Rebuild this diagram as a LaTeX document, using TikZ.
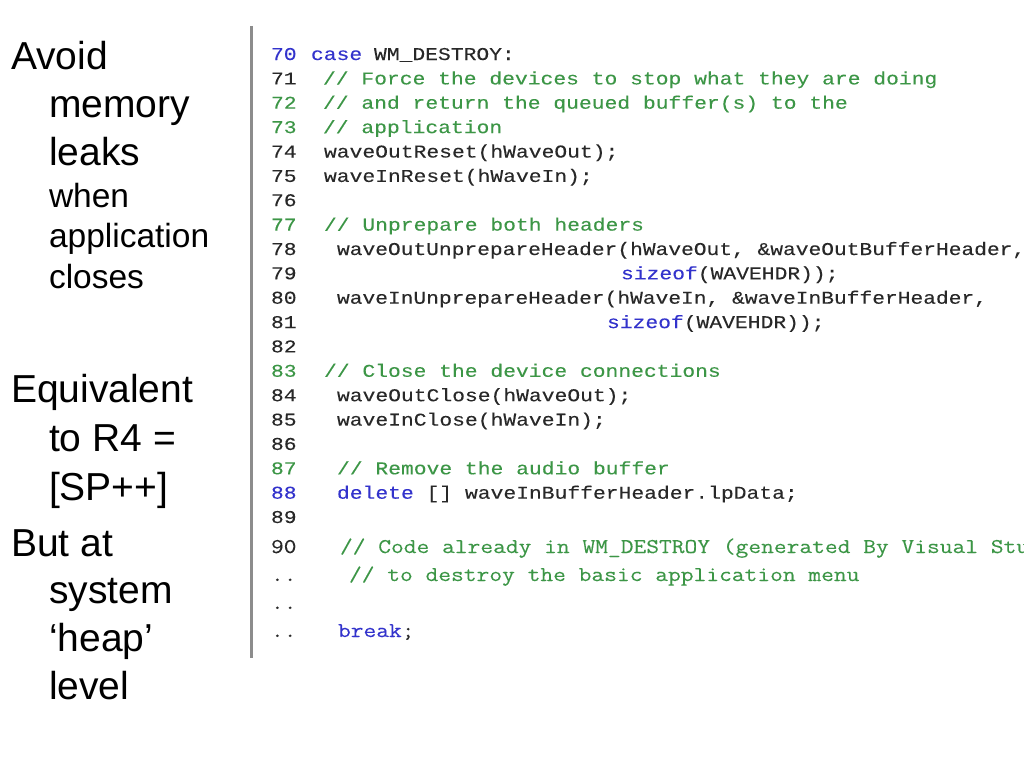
\documentclass[tikz,border=0pt]{standalone}
\usepackage{fontspec}
\setmainfont{Liberation Sans}
\newfontfamily\codefont[FakeStretch=1.185,FakeBold=0.12]{Liberation Mono}
\newfontfamily\codefontn[FakeStretch=1.18,FakeBold=0.12]{Liberation Mono}
\newfontfamily\lowfont[FakeStretch=1.18,FakeBold=0.12]{Latin Modern Mono}
\definecolor{kw}{RGB}{51,51,204}
\definecolor{cm}{RGB}{60,150,70}
\definecolor{tx}{RGB}{40,40,40}
\definecolor{rule}{RGB}{140,140,140}
\tikzset{
 big/.style={anchor=base west, inner sep=0pt, outer sep=0pt, font=\fontsize{39}{39}\selectfont},
 small/.style={anchor=base west, inner sep=0pt, outer sep=0pt, font=\fontsize{33.5}{33.5}\selectfont},
 code/.style={anchor=base west, inner sep=0pt, outer sep=0pt, font=\codefont\fontsize{18}{18}\selectfont, text=tx},
 coden/.style={anchor=base west, inner sep=0pt, outer sep=0pt, font=\codefontn\fontsize{18}{18}\selectfont, text=tx},
 low/.style={anchor=base west, inner sep=0pt, outer sep=0pt, font=\lowfont\fontsize{21}{21}\selectfont, text=tx},
 cmt/.style={text=cm},
 key/.style={text=kw},
}
\begin{document}
\begin{tikzpicture}[x=1pt,y=-1pt]
\useasboundingbox (0,0) rectangle (1024,768);
\clip (0,0) rectangle (1024,768);
\fill[white] (0,0) rectangle (1024,768);
% left column
\node[big] (t1) at (11,69) {Avoid};
\node[big] (t2) at (49,117) {memory};
\node[big] (t3) at (49,165) {leaks};
\node[small] (t4) at (49,207) {when};
\node[small] (t5) at (49,247) {application};
\node[small] (t6) at (49,288) {closes};
\node[big] (t7) at (11,402) {Equivalent};
\node[big] (t8) at (49,451) {to R4 =};
\node[big] (t9) at (49,500) {[SP++]};
\node[big] (t10) at (11,556) {But at};
\node[big] (t11) at (49,603) {system};
\node[big] (t12) at (49,651) {‘heap’};
\node[big] (t13) at (49,699) {level};
% separator
\coordinate (rtop) at (251,26);
\coordinate (rbot) at (251,658);
\draw[rule, line width=3pt] (rtop) -- (rbot);
% code
\node[code,key] (n70) at (271,60) {70};
\node[code,key] (c70a) at (311,60) {case};
\node[code] (c70b) at (374,60) {WM\_DESTROY:};
\node[code] (n71) at (271,84.4) {71};
\node[code,cmt] (c71) at (323,84.4) {// Force the devices to stop what they are doing};
\node[code,cmt] (n72) at (271,108.7) {72};
\node[code,cmt] (c72) at (323,108.7) {// and return the queued buffer(s) to the};
\node[code,cmt] (n73) at (271,133.1) {73};
\node[code,cmt] (c73) at (323,133.1) {// application};
\node[code] (n74) at (271,157.5) {74};
\node[code] (c74) at (324,157.5) {waveOutReset(hWaveOut);};
\node[code] (n75) at (271,181.9) {75};
\node[code] (c75) at (324,181.9) {waveInReset(hWaveIn);};
\node[code] (n76) at (271,206.2) {76};
\node[code,cmt] (n77) at (271,230.6) {77};
\node[code,cmt] (c77) at (324,230.6) {// Unprepare both headers};
\node[code] (n78) at (271,255.0) {78};
\node[coden] (c78) at (337,255.0) {waveOutUnprepareHeader(hWaveOut, \&waveOutBufferHeader,};
\node[code] (n79) at (271,279.3) {79};
\node[code,key] (c79a) at (621,279.3) {sizeof};
\node[code] (c79b) at (c79a.base east) [anchor=base west] {(WAVEHDR));};
\node[code] (n80) at (271,303.7) {80};
\node[coden] (c80) at (337,303.7) {waveInUnprepareHeader(hWaveIn, \&waveInBufferHeader,};
\node[code] (n81) at (271,328.1) {81};
\node[code,key] (c81a) at (607,328.1) {sizeof};
\node[code] (c81b) at (c81a.base east) [anchor=base west] {(WAVEHDR));};
\node[code] (n82) at (271,352.4) {82};
\node[code,cmt] (n83) at (271,376.8) {83};
\node[code,cmt] (c83) at (324,376.8) {// Close the device connections};
\node[code] (n84) at (271,401.2) {84};
\node[code] (c84) at (337,401.2) {waveOutClose(hWaveOut);};
\node[code] (n85) at (271,425.6) {85};
\node[code] (c85) at (337,425.6) {waveInClose(hWaveIn);};
\node[code] (n86) at (271,449.9) {86};
\node[code,cmt] (n87) at (271,474.3) {87};
\node[code,cmt] (c87) at (337,474.3) {// Remove the audio buffer};
\node[code,key] (n88) at (271,498.7) {88};
\node[code] (c88) at (337,498.7) {\textcolor{kw}{delete} [] waveInBufferHeader.lpData;};
\node[code] (n89) at (271,523.0) {89};
% lower part
\node[low] (n90) at (271,553) {90};
\node[low,cmt] (c90) at (340,553) {// Code already in WM\_DESTROY (generated By Visual Stu};
\node[low] (d1) at (271,581) {..};
\node[low,cmt] (c91) at (349,581) {// to destroy the basic application menu};
\node[low] (d2) at (271,609) {..};
\node[low] (d3) at (271,637) {..};
\node[low] (c93) at (338,637) {\textcolor{kw}{break};};
\end{tikzpicture}
\end{document}
